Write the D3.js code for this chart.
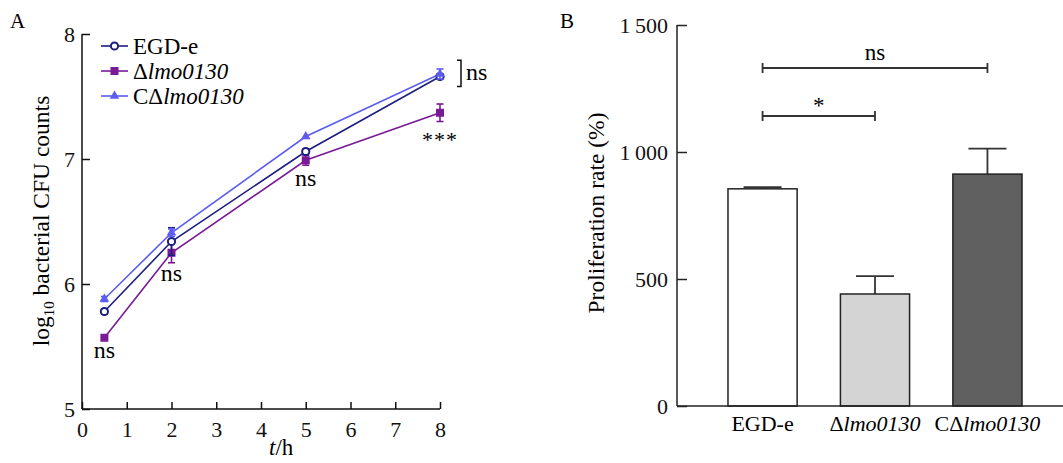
<!DOCTYPE html>
<html><head><meta charset="utf-8">
<script src="https://cdn.jsdelivr.net/npm/d3@7"></script>
<style>
body{margin:0;background:#fff;}
svg{display:block;font-family:"Liberation Serif","Times New Roman",serif;}
</style></head>
<body><svg id="c" width="1063" height="463"></svg>
<script>
// ---------- Data: panel A ----------
const times = [0.5, 2, 5, 8];
const seriesNames = ["EGD-e", "Δlmo0130", "CΔlmo0130"];
const egdMean = [5.78, 6.34, 7.06, 7.66];
const egdErr  = [0.02, 0.11, 0.02, 0.02];
const delMean = [5.57, 6.25, 6.99, 7.37];
const delErr  = [0.01, 0.08, 0.04, 0.07];
const compMean = [5.88, 6.41, 7.18, 7.68];
const compErr  = [0.02, 0.03, 0.01, 0.04];
const xTicksA = [0,1,2,3,4,5,6,7,8];
const yTicksA = [5,6,7,8];
const sigA = ["ns","ns","ns","***"];

// ---------- Data: panel B ----------
const strains = ["EGD-e", "Δlmo0130", "CΔlmo0130"];
const rateMean = [855, 441, 913];
const rateErr  = [7, 70, 100];
const yTicksB = [0, 500, 1000, 1500];

const svg = d3.select("#c");
const FS = 22;
const FONT = "Liberation Serif";
const colors = ["#1e1e82", "#7a1a96", "#5c5cf0"];

// ================= Panel A =================
const xA = d3.scaleLinear().domain([0, 8]).range([82, 440]);
const yA = d3.scaleLinear().domain([5, 8]).range([409, 34]);
const gA = svg.append("g");

// axes
gA.append("g").attr("transform", `translate(0,${yA(5)})`)
  .call(d3.axisBottom(xA).tickValues(xTicksA).tickSize(-7).tickPadding(12).tickFormat(d3.format("d")))
  .call(g => { g.attr("font-family", FONT); g.select(".domain").remove(); g.selectAll("line").attr("stroke","#111").attr("stroke-width",1.5);
               g.selectAll("text").attr("font-size",FS).attr("font-family",FONT).attr("fill","#111"); });
gA.append("line").attr("x1", xA(0)).attr("x2", xA(8)).attr("y1", yA(5)).attr("y2", yA(5)).attr("stroke","#111").attr("stroke-width",1.5);
gA.append("g").attr("transform", `translate(${xA(0)},0)`)
  .call(d3.axisLeft(yA).tickValues(yTicksA).tickSize(-8).tickPadding(7).tickFormat(d3.format("d")))
  .call(g => { g.attr("font-family", FONT); g.select(".domain").remove(); g.selectAll("line").attr("stroke","#111").attr("stroke-width",1.5);
               g.selectAll("text").attr("font-size",FS).attr("font-family",FONT).attr("fill","#111"); });
gA.append("line").attr("x1", xA(0)).attr("x2", xA(0)).attr("y1", yA(5)).attr("y2", yA(8)).attr("stroke","#111").attr("stroke-width",1.5);

// titles
gA.append("text").attr("x", 10).attr("y", 28).attr("font-size", 21).text("A");
const xt = gA.append("text").attr("x", xA(4.45)).attr("y", 455).attr("text-anchor","middle").attr("font-size",FS+1);
xt.append("tspan").attr("font-style","italic").text("t");
xt.append("tspan").text("/h");
const yt = gA.append("text").attr("transform", `translate(49,221) rotate(-90)`)
  .attr("text-anchor","middle").attr("font-size",23.5);
yt.append("tspan").text("log");
yt.append("tspan").attr("font-size",15).attr("dy",5).text("10");
yt.append("tspan").attr("dy",-5).text(" bacterial CFU counts");

// series
const allSeries = [
  {mean: egdMean, err: egdErr, marker: "circle"},
  {mean: delMean, err: delErr, marker: "square"},
  {mean: compMean, err: compErr, marker: "triangle"}
];
const line = d3.line().x((d,i)=>xA(times[i])).y(d=>yA(d));
const order = [1, 0, 2];
function drawMarker(g, type, x, y, color){
  if(type==="circle") g.append("circle").attr("cx",x).attr("cy",y).attr("r",3.6).attr("fill","#fff").attr("stroke",color).attr("stroke-width",2);
  else if(type==="square") g.append("rect").attr("x",x-4).attr("y",y-4).attr("width",8).attr("height",8).attr("fill",color);
  else g.append("path").attr("d", d3.symbol(d3.symbolTriangle, 40)()).attr("transform",`translate(${x},${y})`).attr("fill",color);
}
order.forEach(k => {
  const s = allSeries[k], c = colors[k];
  gA.append("path").datum(s.mean).attr("d", line).attr("fill","none").attr("stroke", c).attr("stroke-width",1.6);
});
order.forEach(k => {
  const s = allSeries[k], c = colors[k];
  s.mean.forEach((m,i) => {
    const x = xA(times[i]);
    if (s.err[i] > 0.015) {
      gA.append("line").attr("x1",x).attr("x2",x).attr("y1",yA(m-s.err[i])).attr("y2",yA(m+s.err[i])).attr("stroke",c).attr("stroke-width",1.6);
      [m-s.err[i], m+s.err[i]].forEach(v => gA.append("line").attr("x1",x-3.5).attr("x2",x+3.5).attr("y1",yA(v)).attr("y2",yA(v)).attr("stroke",c).attr("stroke-width",1.6));
    }
    drawMarker(gA, s.marker, x, yA(m), c);
  });
});

// significance labels
const sigPos = [[0.5, 358], [2, 281], [5, 186]];
sigPos.forEach((p,i) => gA.append("text").attr("x", xA(p[0])).attr("y", p[1]).attr("text-anchor","middle").attr("font-size",FS+2).text(sigA[i]));
gA.append("text").attr("x", xA(8)).attr("y", 147).attr("text-anchor","middle").attr("font-size",FS).attr("letter-spacing",1).text(sigA[3]);
gA.append("path").attr("d", `M${xA(8)+17},${yA(7.79)} H${xA(8)+21} V${yA(7.58)} H${xA(8)+17}`).attr("fill","none").attr("stroke","#111").attr("stroke-width",1.5);
gA.append("text").attr("x", xA(8)+26).attr("y", 80).attr("font-size",FS+2).text("ns");

// legend
seriesNames.forEach((n,i) => {
  const y = [46, 71, 96][i];
  gA.append("line").attr("x1",101).attr("x2",128).attr("y1",y).attr("y2",y).attr("stroke",colors[i]).attr("stroke-width",1.6);
  drawMarker(gA, allSeries[i].marker, 114.5, y, colors[i]);
  const t = gA.append("text").attr("x",133).attr("y",y+8).attr("font-size",FS+1);
  if (n.startsWith("CΔ")) { t.append("tspan").text("CΔ"); t.append("tspan").attr("font-style","italic").text(n.slice(2)); }
  else if (n.startsWith("Δ")) { t.append("tspan").text("Δ"); t.append("tspan").attr("font-style","italic").text(n.slice(1)); }
  else t.text(n);
});

// ================= Panel B =================
const xB = d3.scaleBand().domain(strains).range([692, 1058]).paddingInner(0.385).paddingOuter(0.32);
const yB = d3.scaleLinear().domain([0, 1500]).range([406, 25]);
const gB = svg.append("g");
const fillsB = ["#ffffff", "#d4d4d4", "#606060"];

gB.append("text").attr("x", 560).attr("y", 28).attr("font-size", 21).text("B");

gB.append("g").attr("transform", `translate(677,0)`)
  .call(d3.axisLeft(yB).tickValues(yTicksB).tickSize(-10).tickPadding(9).tickFormat(d => d >= 1000 ? d3.format("d")(Math.floor(d/1000)) + "\u2009" + d3.format("03d")(d%1000) : d))
  .call(g => { g.attr("font-family", FONT); g.select(".domain").remove(); g.selectAll("line").attr("stroke","#222").attr("stroke-width",1.5);
               g.selectAll("text").attr("font-size",FS).attr("font-family",FONT).attr("fill","#111"); });
gB.append("line").attr("x1",677).attr("x2",677).attr("y1",yB(0)).attr("y2",yB(1500)).attr("stroke","#222").attr("stroke-width",1.5);

// bars
strains.forEach((s,i) => {
  const x = xB(s), w = xB.bandwidth(), cx = x + w/2;
  gB.append("line").attr("x1",cx).attr("x2",cx).attr("y1",yB(rateMean[i])).attr("y2",yB(rateMean[i]+rateErr[i])).attr("stroke","#333").attr("stroke-width",1.8);
  gB.append("line").attr("x1",cx-19).attr("x2",cx+19).attr("y1",yB(rateMean[i]+rateErr[i])).attr("y2",yB(rateMean[i]+rateErr[i])).attr("stroke","#333").attr("stroke-width",1.8);
  gB.append("rect").attr("x",x).attr("y",yB(rateMean[i])).attr("width",w).attr("height",yB(0)-yB(rateMean[i]))
    .attr("fill",fillsB[i]).attr("stroke","#222").attr("stroke-width",1.5);
});
gB.append("line").attr("x1",677).attr("x2",1063).attr("y1",yB(0)).attr("y2",yB(0)).attr("stroke","#222").attr("stroke-width",1.5);

// x labels
strains.forEach((s,i) => {
  const t = gB.append("text").attr("x", xB(s)+xB.bandwidth()/2).attr("y", 431).attr("text-anchor","middle").attr("font-size",FS);
  if (s.startsWith("CΔ")) { t.append("tspan").text("CΔ"); t.append("tspan").attr("font-style","italic").text(s.slice(2)); }
  else if (s.startsWith("Δ")) { t.append("tspan").text("Δ"); t.append("tspan").attr("font-style","italic").text(s.slice(1)); }
  else t.text(s);
});

// y title
gB.append("text").attr("transform", `translate(604,213) rotate(-90)`).attr("text-anchor","middle").attr("font-size",23.5).text("Proliferation rate (%)");

// significance brackets
function bracket(a, b, y, label, ly){
  const x1 = xB(strains[a]) + xB.bandwidth()/2, x2 = xB(strains[b]) + xB.bandwidth()/2;
  gB.append("line").attr("x1",x1).attr("x2",x2).attr("y1",y).attr("y2",y).attr("stroke","#333").attr("stroke-width",1.8);
  [x1,x2].forEach(x => gB.append("line").attr("x1",x).attr("x2",x).attr("y1",y-5).attr("y2",y+5).attr("stroke","#333").attr("stroke-width",1.8));
  gB.append("text").attr("x",(x1+x2)/2).attr("y",ly).attr("text-anchor","middle").attr("font-size",FS+1).text(label);
}
bracket(0, 2, 68, "ns", 60);
bracket(0, 1, 116, "*", 113);
</script></body></html>
